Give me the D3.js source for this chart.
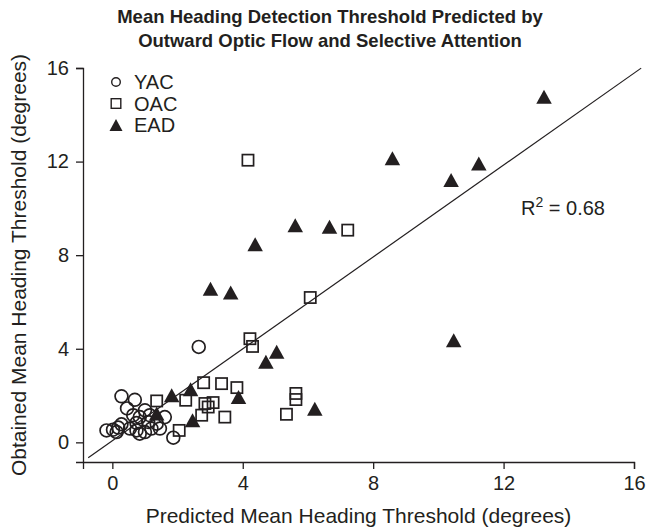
<!doctype html>
<html>
<head>
<meta charset="utf-8">
<title>Mean Heading Detection Threshold</title>
<script src="https://cdn.jsdelivr.net/npm/d3@7"></script>
<style>
  body { margin: 0; background: #fff; }
  svg text { font-family: "Liberation Sans", Arial, Helvetica, sans-serif; fill: #231f20; }
</style>
</head>
<body>
<div id="viz"></div>
<script>
// data (degrees)
const yacX = [0.28, 0.69, 0.45, -0.18, 0.02, 0.18, 0.28, 0.54, 0.74, 0.84, 1.0, 1.1, 1.2, 0.84, 1.36, 1.46, 1.61, 1.87, 1.0, 0.74, 0.13, 0.64, 1.15, 2.65];
const yacY = [1.97, 1.82, 1.45, 0.51, 0.54, 0.63, 0.77, 0.59, 0.83, 1.08, 1.37, 0.87, 0.59, 0.37, 0.80, 0.59, 1.08, 0.20, 0.44, 0.51, 0.44, 1.16, 1.16, 4.08];

const oacX = [1.36, 2.25, 2.05, 2.8, 3.35, 3.82, 2.84, 3.09, 2.94, 2.74, 3.45, 5.63, 5.63, 5.34, 4.22, 4.3, 6.07, 7.22, 4.16];
const oacY = [1.77, 1.80, 0.51, 2.55, 2.51, 2.34, 1.66, 1.70, 1.51, 1.16, 1.08, 2.09, 1.83, 1.20, 4.43, 4.10, 6.19, 9.07, 12.06];

const eadX = [1.36, 1.82, 2.40, 2.46, 3.87, 4.71, 5.04, 6.21, 3.01, 3.63, 4.38, 5.61, 6.66, 8.59, 10.39, 11.24, 13.24, 10.47];
const eadY = [1.23, 2.01, 2.27, 0.94, 1.94, 3.44, 3.87, 1.44, 6.57, 6.40, 8.47, 9.28, 9.21, 12.14, 11.21, 11.92, 14.77, 4.36];

const groups = ["YAC", "OAC", "EAD"];
const xTicks = [0, 4, 8, 12, 16];
const yTicks = [0, 4, 8, 12, 16];

// fitted line
const fitSlope = 0.982;
const fitIntercept = 0.067;
const fitRange = [-0.74, 16.22];
const r2Label = "0.68";

const W = 660, H = 528;
const ink = "#231f20";

const svg = d3.select("#viz").append("svg")
  .attr("width", W).attr("height", H);

const x = d3.scaleLinear().domain([-0.9, 16]).range([83, 634]);
const y = d3.scaleLinear().domain([-0.84, 16]).range([462, 68]);

// title
const title = svg.append("text")
  .attr("text-anchor", "middle")
  .style("font-size", "18.5px")
  .style("font-weight", "bold");
title.append("tspan").attr("x", 330).attr("y", 23)
  .text("Mean Heading Detection Threshold Predicted by");
title.append("tspan").attr("x", 330).attr("y", 47)
  .text("Outward Optic Flow and Selective Attention");

// axes
const xAxis = svg.append("g")
  .attr("transform", `translate(0,${y.range()[0]})`)
  .call(d3.axisBottom(x).tickValues(xTicks).tickSizeOuter(0).tickSize(7).tickPadding(7));
const yAxis = svg.append("g")
  .attr("transform", `translate(${x.range()[0]},0)`)
  .call(d3.axisLeft(y).tickValues(yTicks).tickSizeOuter(0).tickSize(7).tickPadding(7));

[xAxis, yAxis].forEach(a => {
  a.select(".domain").attr("stroke", ink).attr("stroke-width", 1.3);
  a.selectAll(".tick line").attr("stroke", ink).attr("stroke-width", 1.3);
  a.selectAll(".tick text").style("font-size", "20px").attr("fill", ink)
    .style("font-family", "'Liberation Sans', Arial, sans-serif");
});

svg.append("text")
  .attr("x", (x.range()[0] + x.range()[1]) / 2).attr("y", 523)
  .attr("text-anchor", "middle").style("font-size", "21px")
  .text("Predicted Mean Heading Threshold (degrees)");

svg.append("text")
  .attr("transform", `translate(26,${(y.range()[0] + y.range()[1]) / 2}) rotate(-90)`)
  .attr("text-anchor", "middle").style("font-size", "21px")
  .text("Obtained Mean Heading Threshold (degrees)");

// fit line
svg.append("line")
  .attr("x1", x(fitRange[0])).attr("y1", y(fitSlope * fitRange[0] + fitIntercept))
  .attr("x2", x(fitRange[1])).attr("y2", y(fitSlope * fitRange[1] + fitIntercept))
  .attr("stroke", ink).attr("stroke-width", 1.2);

const r2 = svg.append("text").attr("x", 521).attr("y", 215).style("font-size", "20px");
r2.append("tspan").text("R");
r2.append("tspan").attr("dy", -8).style("font-size", "14px").text("2");
r2.append("tspan").attr("dy", 8).text(" = " + r2Label);

// markers
function tri(w, h) {
  return `M0,${-h / 2}L${w / 2},${h / 2}L${-w / 2},${h / 2}Z`;
}

const pts = svg.append("g");

pts.selectAll(".yac").data(d3.zip(yacX, yacY)).enter()
  .append("circle")
  .attr("cx", d => x(d[0])).attr("cy", d => y(d[1]))
  .attr("r", 6.4).attr("fill", "none").attr("stroke", ink).attr("stroke-width", 1.7);

const sq = 11.2;
pts.selectAll(".oac").data(d3.zip(oacX, oacY)).enter()
  .append("rect")
  .attr("x", d => x(d[0]) - sq / 2).attr("y", d => y(d[1]) - sq / 2)
  .attr("width", sq).attr("height", sq)
  .attr("fill", "none").attr("stroke", ink).attr("stroke-width", 1.7);

pts.selectAll(".ead").data(d3.zip(eadX, eadY)).enter()
  .append("path")
  .attr("transform", d => `translate(${x(d[0])},${y(d[1])})`)
  .attr("d", tri(15.5, 14)).attr("fill", ink);

// legend
const legend = svg.append("g").attr("transform", "translate(116,0)");
const rowY = [82, 103.5, 125];
groups.forEach((g, i) => {
  const row = legend.append("g").attr("transform", `translate(0,${rowY[i]})`);
  if (g === "YAC") {
    row.append("circle").attr("r", 4.3).attr("fill", "none")
      .attr("stroke", ink).attr("stroke-width", 1.4);
  } else if (g === "OAC") {
    row.append("rect").attr("x", -4.8).attr("y", -4.8).attr("width", 9.6).attr("height", 9.6)
      .attr("fill", "none").attr("stroke", ink).attr("stroke-width", 1.4);
  } else {
    row.append("path").attr("d", tri(13, 12)).attr("fill", ink);
  }
  row.append("text").attr("x", 18).attr("y", 7).style("font-size", "20px").text(g);
});
</script>
</body>
</html>
